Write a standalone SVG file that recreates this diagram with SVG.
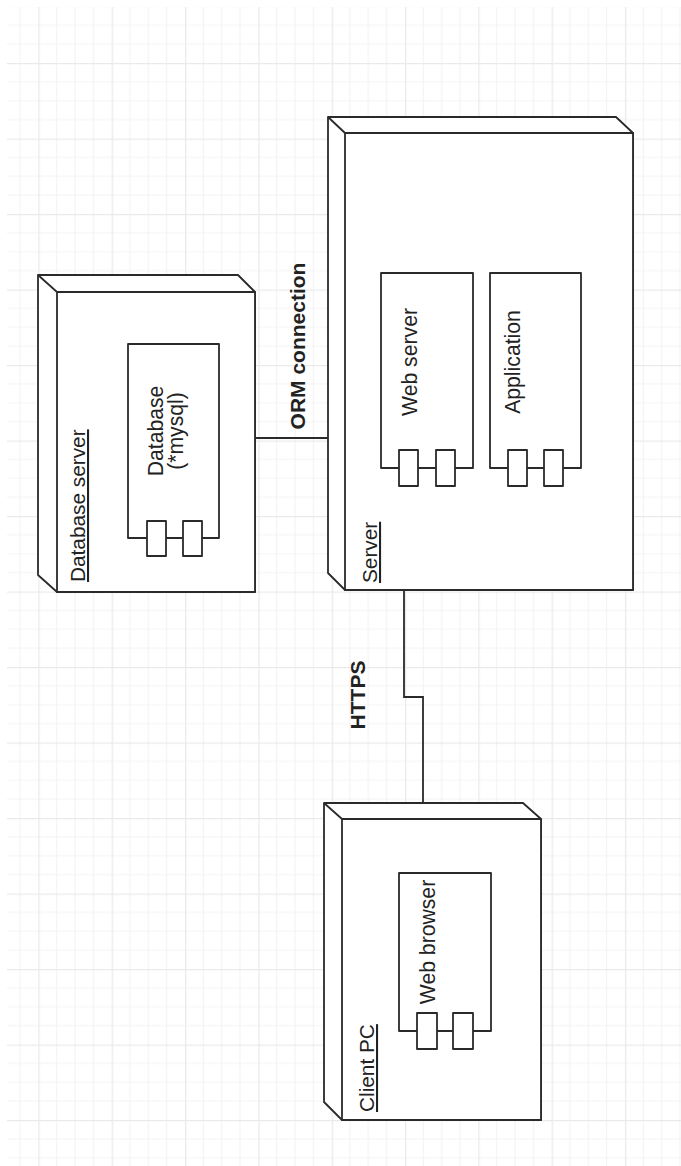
<svg xmlns="http://www.w3.org/2000/svg" width="681" height="1166" viewBox="0 0 681 1166">
  <defs>
    <pattern id="grid" patternUnits="userSpaceOnUse" x="38.33" y="63" width="73.33" height="75.5">
      <path d="M18.33,0V75.5M36.67,0V75.5M55,0V75.5M0,18.875H73.33M0,37.75H73.33M0,56.625H73.33" stroke="#f3f3f3" stroke-width="1.2" fill="none"/>
      <path d="M0.6,0V75.5M0,0.6H73.33" stroke="#eaeaea" stroke-width="1.4" fill="none"/>
    </pattern>
    <style>
      .node { fill: #ffffff; stroke: #2a2a2a; stroke-width: 1.8; stroke-linejoin: round; }
      .edge { fill: none; stroke: #2a2a2a; stroke-width: 1.8; }
      .lbl { font-family: "Liberation Sans", Arial, sans-serif; font-size: 20.8px; fill: #222; }
      .nlbl { text-decoration: underline; }
      .clbl { text-anchor: middle; font-size: 21.2px; }
      .elbl { font-weight: bold; text-anchor: middle; font-size: 21px; }
    </style>
  </defs>
  <rect width="681" height="1166" fill="#ffffff"/>
  <rect x="7" y="7" width="674" height="1159" fill="url(#grid)"/>

  <g id="connectors">
    <path class="edge" d="M255,438 H328"/>
    <path class="edge" d="M404,590 V697 H423 V803"/>
    <text class="lbl elbl" transform="translate(305,346) rotate(-90)">ORM connection</text>
    <text class="lbl elbl" transform="translate(365,695) rotate(-90)">HTTPS</text>
  </g>

  <g id="database-server">
    <path class="node" d="M38,275 H238 L255,292 V592 H57 L38,575 Z"/>
    <rect class="node" x="57" y="292" width="198" height="300"/>
    <path class="edge" d="M38,275 L57,292"/>
    <text class="lbl nlbl" transform="translate(85,582) rotate(-90)">Database server</text>
  </g>
  <g id="database">
    <rect class="node" x="128" y="344" width="91" height="194"/>
    <rect class="node" x="147" y="521" width="19" height="35"/>
    <rect class="node" x="183" y="521" width="19" height="35"/>
    <text class="lbl clbl" transform="translate(163,431) rotate(-90)">Database</text>
    <text class="lbl clbl" transform="translate(183,431) rotate(-90)">(*mysql)</text>
  </g>

  <g id="server">
    <path class="node" d="M328,117 H616 L633,133 V590 H345 L328,573 Z"/>
    <rect class="node" x="345" y="133" width="288" height="457"/>
    <path class="edge" d="M328,117 L345,133"/>
    <text class="lbl nlbl" transform="translate(377,583) rotate(-90)">Server</text>
  </g>
  <g id="web-server">
    <rect class="node" x="381" y="273" width="92" height="195"/>
    <rect class="node" x="399" y="450" width="19" height="36"/>
    <rect class="node" x="436" y="450" width="19" height="36"/>
    <text class="lbl clbl" transform="translate(417,362) rotate(-90)">Web server</text>
  </g>
  <g id="application">
    <rect class="node" x="490" y="273" width="91" height="195"/>
    <rect class="node" x="508" y="450" width="19" height="36"/>
    <rect class="node" x="544" y="450" width="19" height="36"/>
    <text class="lbl clbl" transform="translate(520,362) rotate(-90)">Application</text>
  </g>

  <g id="client-pc">
    <path class="node" d="M324,803 H523 L541,819 V1120 H342 L324,1102 Z"/>
    <rect class="node" x="342" y="819" width="199" height="301"/>
    <path class="edge" d="M324,803 L342,819"/>
    <text class="lbl nlbl" transform="translate(374,1112) rotate(-90)">Client PC</text>
  </g>
  <g id="web-browser">
    <rect class="node" x="399" y="873" width="92" height="158"/>
    <rect class="node" x="417" y="1013" width="20" height="36"/>
    <rect class="node" x="453" y="1013" width="20" height="36"/>
    <text class="lbl clbl" transform="translate(435,942) rotate(-90)">Web browser</text>
  </g>
</svg>
